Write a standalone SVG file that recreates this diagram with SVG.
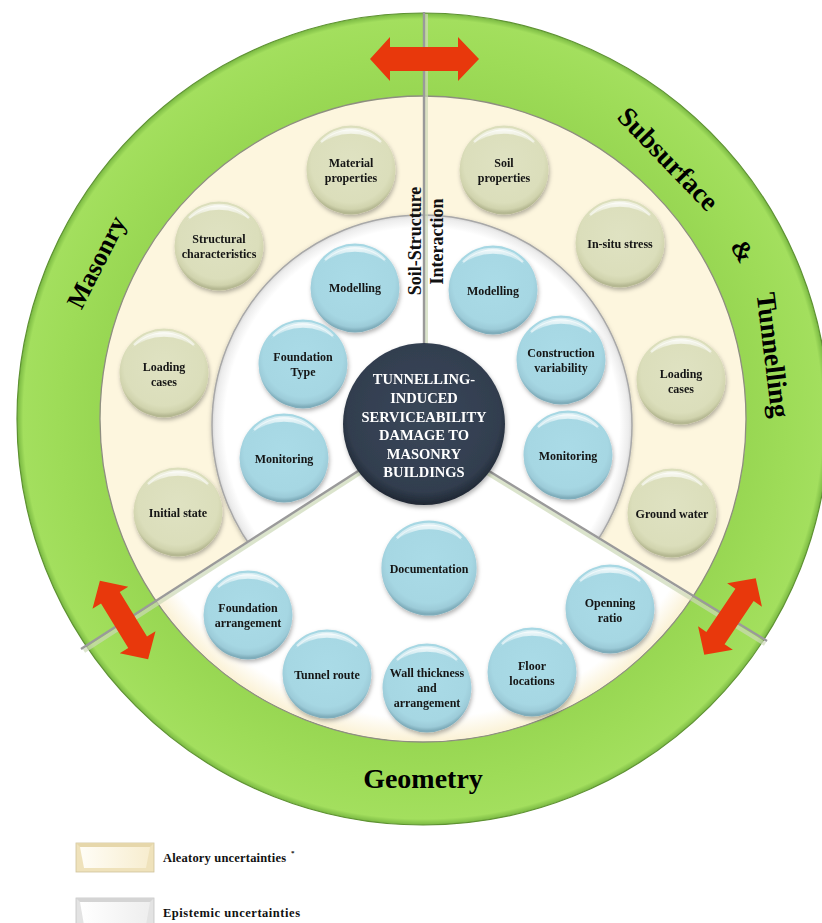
<svg xmlns="http://www.w3.org/2000/svg" width="822" height="923" viewBox="0 0 822 923">
<defs>
<style>
.nt{font-family:"Liberation Serif","Times New Roman",serif;font-weight:bold;font-size:12px;fill:#141414;text-anchor:middle}
.ct{font-family:"Liberation Serif","Times New Roman",serif;font-weight:bold;font-size:14.5px;fill:#ffffff;text-anchor:middle}
.rt{font-family:"Liberation Serif","Times New Roman",serif;font-weight:bold;font-size:26px;fill:#000;text-anchor:middle}
.st{font-family:"Liberation Serif","Times New Roman",serif;font-weight:bold;font-size:18px;fill:#111;text-anchor:middle}
.lg{font-family:"Liberation Serif","Times New Roman",serif;font-weight:bold;font-size:12.5px;fill:#111}
.arrow{fill:#e8380c}
.div{stroke:#9a9a9a;stroke-width:2.4;fill:none}
.divs{stroke:#ccd8b6;stroke-width:4;fill:none;opacity:0.7}
</style>
<radialGradient id="gGreen" gradientUnits="userSpaceOnUse" cx="423" cy="419" r="406">
<stop offset="0.78" stop-color="#97d652"/>
<stop offset="0.9" stop-color="#9edc58"/>
<stop offset="0.985" stop-color="#a3df5e"/>
<stop offset="1" stop-color="#79b842"/>
</radialGradient>
<radialGradient id="gWedge" gradientUnits="userSpaceOnUse" cx="423" cy="419" r="322">
<stop offset="0" stop-color="#ffffff"/>
<stop offset="0.93" stop-color="#ffffff"/>
<stop offset="1" stop-color="#fbf2d6"/>
</radialGradient>
<radialGradient id="gInner" gradientUnits="userSpaceOnUse" cx="422" cy="425" r="210">
<stop offset="0" stop-color="#ffffff"/>
<stop offset="0.94" stop-color="#ffffff"/>
<stop offset="0.985" stop-color="#ececec"/>
<stop offset="1" stop-color="#d8d8d8"/>
</radialGradient>
<radialGradient id="gBlue" cx="0.5" cy="0.42" r="0.56">
<stop offset="0" stop-color="#aadbe7"/>
<stop offset="0.8" stop-color="#a6d7e3"/>
<stop offset="0.93" stop-color="#9ccbd8"/>
<stop offset="1" stop-color="#7fadbb"/>
</radialGradient>
<radialGradient id="gBeige" cx="0.5" cy="0.42" r="0.56">
<stop offset="0" stop-color="#dfe2c2"/>
<stop offset="0.8" stop-color="#dbdebb"/>
<stop offset="0.93" stop-color="#d0d3ad"/>
<stop offset="1" stop-color="#b5b892"/>
</radialGradient>
<radialGradient id="gDark" cx="0.5" cy="0.45" r="0.55">
<stop offset="0" stop-color="#3a4759"/>
<stop offset="0.85" stop-color="#323e4f"/>
<stop offset="1" stop-color="#1f2733"/>
</radialGradient>
<linearGradient id="gHi" x1="0" y1="0" x2="0" y2="1">
<stop offset="0" stop-color="#ffffff" stop-opacity="0.85"/>
<stop offset="1" stop-color="#ffffff" stop-opacity="0"/>
</linearGradient>
<linearGradient id="gLegA" x1="0" y1="0" x2="1" y2="0">
<stop offset="0" stop-color="#fffdf6"/>
<stop offset="1" stop-color="#f7edcf"/>
</linearGradient>
<linearGradient id="gLegE" x1="0" y1="0" x2="1" y2="0">
<stop offset="0" stop-color="#ffffff"/>
<stop offset="1" stop-color="#eeeeee"/>
</linearGradient>
<filter id="sh" x="-20%" y="-20%" width="150%" height="150%">
<feDropShadow dx="1" dy="2.5" stdDeviation="2" flood-color="#000" flood-opacity="0.3"/>
</filter>
<filter id="sh2" x="-10%" y="-10%" width="120%" height="120%">
<feDropShadow dx="0" dy="1.5" stdDeviation="2" flood-color="#000" flood-opacity="0.25"/>
</filter>
<g id="ballB">
<circle r="44.5" fill="url(#gBlue)"/>
<path d="M-33,-24 A41,41 0 0 1 33,-24 A46,40 0 0 0 -33,-24 Z" fill="url(#gHi)"/>
<path d="M-30,-28 A41,41 0 0 1 30,-28" fill="none" stroke="#ffffff" stroke-opacity="0.55" stroke-width="2.5"/>
</g>
<g id="ballY">
<circle r="44.5" fill="url(#gBeige)"/>
<path d="M-33,-24 A41,41 0 0 1 33,-24 A46,40 0 0 0 -33,-24 Z" fill="url(#gHi)"/>
<path d="M-30,-28 A41,41 0 0 1 30,-28" fill="none" stroke="#ffffff" stroke-opacity="0.55" stroke-width="2.5"/>
</g>
<path id="arr2" d="M-46,0 L-26,-21 L-26,-11 L26,-11 L26,-21 L46,0 L26,21 L26,11 L-26,11 L-26,21 Z"/>
</defs>

<rect width="822" height="923" fill="#ffffff"/>

<g id="rings">
<circle cx="423" cy="419" r="406" fill="url(#gGreen)" stroke="#5e9232" stroke-width="1.2"/>
<circle cx="423" cy="419" r="323" fill="#fdf6de" stroke="#8e8e80" stroke-width="1.3"/>
<circle cx="422" cy="425" r="210" fill="url(#gInner)" stroke="#a8a8a8" stroke-width="1.5" filter="url(#sh2)"/>
<path d="M422,430 L156.7,600.1 A322,322 0 0 0 692.2,595.7 Z" fill="url(#gWedge)"/>
</g>

<g id="connectors">
<line class="divs" x1="426" y1="14" x2="426" y2="350"/>
<line class="div" x1="424" y1="12" x2="424" y2="350"/>
<line class="divs" x1="422" y1="433" x2="84" y2="651"/>
<line class="div" x1="422" y1="430" x2="81" y2="649"/>
<line class="divs" x1="422" y1="433" x2="765" y2="644"/>
<line class="div" x1="422" y1="430" x2="767" y2="641"/>
</g>

<g id="arrows">
<path class="arrow" d="M370,59 L390,37 L390,47 L458,47 L458,37 L479,59 L458,81 L458,71 L390,71 L390,81 Z"/>
<use href="#arr2" class="arrow" transform="translate(124,620) rotate(58.4)"/>
<use href="#arr2" class="arrow" transform="translate(730,616.5) rotate(-56)"/>
</g>

<g id="ring-labels">
<text class="rt" transform="translate(96,262) rotate(-63)" y="9">Masonry</text>
<text class="rt" transform="translate(668,159) rotate(46)" y="9" style="font-size:27.5px">Subsurface</text>
<text class="rt" transform="translate(743,251) rotate(60)" y="9">&amp;</text>
<text class="rt" transform="translate(773,355) rotate(83)" y="9" style="font-size:27.5px">Tunnelling</text>
<text class="rt" x="423" y="788" style="font-size:28px">Geometry</text>
<text class="st" transform="translate(421,241) rotate(-90)">Soil-Structure</text>
<text class="st" transform="translate(443,241.5) rotate(-90)">Interaction</text>
</g>

<g id="n-material" filter="url(#sh)"><use href="#ballY" x="351" y="170"/><text class="nt" x="351" y="167">Material</text><text class="nt" x="351" y="181.5">properties</text></g>
<g id="n-structural" filter="url(#sh)"><use href="#ballY" x="219" y="246"/><text class="nt" x="219" y="243">Structural</text><text class="nt" x="219" y="257.5">characteristics</text></g>
<g id="n-loading-l" filter="url(#sh)"><use href="#ballY" x="164" y="373"/><text class="nt" x="164" y="371">Loading</text><text class="nt" x="164" y="385.5">cases</text></g>
<g id="n-initial" filter="url(#sh)"><use href="#ballY" x="178" y="512"/><text class="nt" x="178" y="517">Initial state</text></g>
<g id="n-soil" filter="url(#sh)"><use href="#ballY" x="504" y="170"/><text class="nt" x="504" y="167">Soil</text><text class="nt" x="504" y="181.5">properties</text></g>
<g id="n-insitu" filter="url(#sh)"><use href="#ballY" x="620" y="243"/><text class="nt" x="620" y="248">In-situ stress</text></g>
<g id="n-loading-r" filter="url(#sh)"><use href="#ballY" x="681" y="380"/><text class="nt" x="681" y="378">Loading</text><text class="nt" x="681" y="392.5">cases</text></g>
<g id="n-groundwater" filter="url(#sh)"><use href="#ballY" x="672" y="513"/><text class="nt" x="672" y="518">Ground water</text></g>

<g id="n-modelling-l" filter="url(#sh)"><use href="#ballB" x="355" y="288"/><text class="nt" x="355" y="292">Modelling</text></g>
<g id="n-foundtype" filter="url(#sh)"><use href="#ballB" x="303" y="364"/><text class="nt" x="303" y="361">Foundation</text><text class="nt" x="303" y="375.5">Type</text></g>
<g id="n-monitoring-l" filter="url(#sh)"><use href="#ballB" x="284" y="458"/><text class="nt" x="284" y="463">Monitoring</text></g>
<g id="n-modelling-r" filter="url(#sh)"><use href="#ballB" x="493" y="290"/><text class="nt" x="493" y="294.5">Modelling</text></g>
<g id="n-construction" filter="url(#sh)"><use href="#ballB" x="561" y="360"/><text class="nt" x="561" y="357">Construction</text><text class="nt" x="561" y="371.5">variability</text></g>
<g id="n-monitoring-r" filter="url(#sh)"><use href="#ballB" x="568" y="455"/><text class="nt" x="568" y="460">Monitoring</text></g>
<g id="n-documentation" filter="url(#sh)"><use href="#ballB" x="429" y="568" transform="translate(429,568) scale(1.07) translate(-429,-568)"/><text class="nt" x="429" y="573">Documentation</text></g>
<g id="n-opening" filter="url(#sh)"><use href="#ballB" x="610" y="609"/><text class="nt" x="610" y="607">Openning</text><text class="nt" x="610" y="621.5">ratio</text></g>
<g id="n-floor" filter="url(#sh)"><use href="#ballB" x="532" y="672"/><text class="nt" x="532" y="670">Floor</text><text class="nt" x="532" y="684.5">locations</text></g>
<g id="n-wall" filter="url(#sh)"><use href="#ballB" x="427" y="688"/><text class="nt" x="427" y="677">Wall thickness</text><text class="nt" x="427" y="692">and</text><text class="nt" x="427" y="707">arrangement</text></g>
<g id="n-tunnel" filter="url(#sh)"><use href="#ballB" x="327" y="674"/><text class="nt" x="327" y="679">Tunnel route</text></g>
<g id="n-foundarr" filter="url(#sh)"><use href="#ballB" x="248" y="615"/><text class="nt" x="248" y="612">Foundation</text><text class="nt" x="248" y="626.5">arrangement</text></g>

<g id="n-center" filter="url(#sh)">
<circle cx="424" cy="424" r="81" fill="url(#gDark)"/>
<text class="ct" x="424" y="384">TUNNELLING-</text>
<text class="ct" x="424" y="403">INDUCED</text>
<text class="ct" x="424" y="421.5">SERVICEABILITY</text>
<text class="ct" x="424" y="440">DAMAGE TO</text>
<text class="ct" x="424" y="458.5">MASONRY</text>
<text class="ct" x="424" y="477">BUILDINGS</text>
</g>

<g id="legend">
<rect x="76" y="843" width="78" height="29" fill="#efe2bb" stroke="#cfc39c" stroke-width="0.8"/>
<polygon points="80,847 150,847 146,868 84,868" fill="url(#gLegA)"/>
<polygon points="76,843 154,843 150,847 80,847" fill="#e6d7ab"/>
<text class="lg" x="163" y="862" textLength="123">Aleatory uncertainties</text>
<text class="lg" x="291" y="855" style="font-size:7px">*</text>
<rect x="76" y="898" width="78" height="27" fill="#e3e3e3" stroke="#c4c4c4" stroke-width="0.8"/>
<polygon points="80,902 150,902 146,925 84,925" fill="url(#gLegE)"/>
<polygon points="76,898 154,898 150,902 80,902" fill="#d4d4d4"/>
<text class="lg" x="163" y="917" textLength="137">Epistemic uncertainties</text>
</g>
</svg>
